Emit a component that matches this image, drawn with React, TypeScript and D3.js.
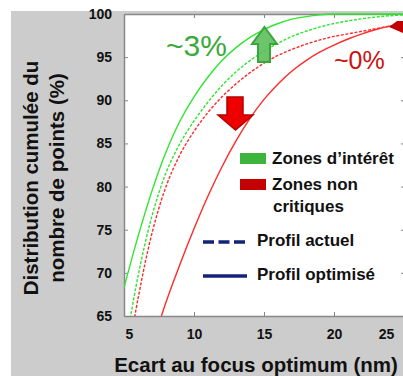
import * as React from 'react';
import {useEffect, useRef} from 'react';
import * as d3 from 'd3';

// ecart au focus (nm)
const focus = [5, 6, 7, 8, 9, 10, 11, 12, 13, 14, 15, 16, 17, 18, 19, 20, 21, 22, 23, 24, 25];
// distribution cumulee (%)
const interetOptimise = [68.3, 74.2, 79.5, 84.0, 87.6, 90.4, 92.7, 94.6, 96.1, 97.3, 98.2, 98.9, 99.4, 99.7, 99.9, 100, 100, 100, 100, 100, 100];
const interetActuel = [60.5, 69.6, 76.6, 81.6, 85.0, 87.6, 89.8, 91.7, 93.3, 94.6, 95.7, 96.6, 97.4, 98.0, 98.5, 98.9, 99.2, 99.45, 99.65, 99.8, 99.9];
const nonCritiquesActuel = [57.5, 67.0, 74.6, 80.0, 83.7, 86.4, 88.6, 90.4, 91.9, 93.2, 94.3, 95.2, 95.9, 96.5, 97.0, 97.4, 97.7, 98.0, 98.3, 98.6, 98.8];
const nonCritiquesOptimise = [49, 55.7, 61.5, 66.6, 71.0, 75.1, 78.9, 82.3, 85.3, 87.9, 90.1, 91.9, 93.4, 94.6, 95.6, 96.4, 97.1, 97.7, 98.2, 98.6, 98.9];

const xTicks = [5, 10, 15, 20, 25];
const yTicks = [65, 70, 75, 80, 85, 90, 95, 100];

const FONT = "'Liberation Sans', Arial, sans-serif";
const W = 403;
const H = 376;

function Chart() {
    const ref = useRef<SVGSVGElement>(null);

    useEffect(() => {
        const svg = d3.select(ref.current);
        svg.selectAll('*').remove();

        const plot = {left: 124, right: 404, top: 14, bottom: 316};

        const x = d3.scaleLinear().domain([5, 25]).range([plot.left, plot.right]);
        const y = d3.scaleLinear().domain([65, 100]).range([plot.bottom, plot.top]);

        // fond gris + zone blanche
        svg.append('rect').attr('x', 11).attr('y', 11).attr('width', W - 11).attr('height', H - 11).attr('fill', '#cccccc');
        svg.append('rect').attr('x', plot.left).attr('y', plot.top)
            .attr('width', plot.right - plot.left).attr('height', plot.bottom - plot.top).attr('fill', '#ffffff');

        svg.append('clipPath').attr('id', 'clip')
            .append('rect').attr('x', plot.left).attr('y', plot.top - 1)
            .attr('width', plot.right - plot.left).attr('height', plot.bottom - plot.top + 1);

        // axes
        const left = svg.append('g').attr('transform', `translate(${plot.left},0)`)
            .call(d3.axisLeft(y).tickValues(yTicks).tickSizeInner(-4).tickSizeOuter(0).tickPadding(12));
        const bottom = svg.append('g').attr('transform', `translate(0,${plot.bottom})`)
            .call(d3.axisBottom(x).tickValues(xTicks).tickSizeInner(-4).tickSizeOuter(0).tickPadding(13));
        svg.append('g').attr('transform', `translate(0,${plot.top})`)
            .call(d3.axisTop(x).tickValues(xTicks).tickSizeInner(-4).tickSizeOuter(0).tickFormat(() => ''));
        svg.append('g').attr('transform', `translate(${plot.right},0)`)
            .call(d3.axisRight(y).tickValues(yTicks).tickSizeInner(-3).tickSizeOuter(0).tickFormat(() => ''));

        svg.selectAll('.domain').attr('stroke', '#888888').attr('stroke-width', 1.5);
        svg.selectAll('.tick line').attr('stroke', '#888888');
        [left, bottom].forEach(g => g.selectAll('text')
            .attr('font-family', FONT).attr('font-size', 14).attr('font-weight', 'bold').attr('fill', '#111'));
        bottom.selectAll('text').filter((d: any) => d === 5).attr('dx', 5);
        bottom.selectAll('text').filter((d: any) => d === 25).attr('dx', -18);

        // courbes
        const line = d3.line<number>()
            .x((d, i) => x(focus[i]))
            .y(d => y(d))
            .curve(d3.curveCatmullRom);

        const series = [
            {values: nonCritiquesOptimise, color: '#ff2a2a', dash: null},
            {values: nonCritiquesActuel, color: '#ff2a2a', dash: '3,1.6'},
            {values: interetActuel, color: '#2ee62e', dash: '3,1.6'},
            {values: interetOptimise, color: '#2ee62e', dash: null},
        ];
        const curves = svg.append('g').attr('clip-path', 'url(#clip)');
        series.forEach(s => {
            curves.append('path')
                .attr('d', line(s.values))
                .attr('fill', 'none')
                .attr('stroke', s.color)
                .attr('stroke-width', 1.4)
                .attr('stroke-dasharray', s.dash);
        });

        // fleches
        svg.append('polygon')
            .attr('points', '264.5,27 277,44 270,44 270,62 258,62 258,44 252,44')
            .attr('fill', '#5cbf5c').attr('fill-opacity', 0.9)
            .attr('stroke', '#3aa53a').attr('stroke-width', 2);
        svg.append('polygon')
            .attr('points', '227,97 243,97 243,115 253,115 235.5,130 218,115 227,115')
            .attr('fill', '#ee0000')
            .attr('stroke', '#b30000').attr('stroke-width', 1.5);
        svg.append('polygon')
            .attr('points', '389,27 397,21 403,21 403,33')
            .attr('fill', '#c00000');

        svg.append('text').attr('x', 166).attr('y', 56).text('~3%')
            .attr('font-family', FONT).attr('font-size', 30).attr('fill', '#3aaa3a');
        svg.append('text').attr('x', 334).attr('y', 69).text('~0%')
            .attr('font-family', FONT).attr('font-size', 25).attr('fill', '#cc1111');

        // legende
        const leg = svg.append('g').attr('font-family', FONT).attr('font-size', 17).attr('font-weight', 'bold').attr('fill', '#111');
        leg.append('rect').attr('x', 240).attr('y', 153).attr('width', 26).attr('height', 11).attr('fill', '#3db53d');
        leg.append('text').attr('x', 272).attr('y', 164).text('Zones d’intérêt');
        leg.append('rect').attr('x', 240).attr('y', 179).attr('width', 26).attr('height', 11).attr('fill', '#c40000');
        leg.append('text').attr('x', 272).attr('y', 190).text('Zones non');
        leg.append('text').attr('x', 273).attr('y', 212).text('critiques');
        leg.append('line').attr('x1', 203).attr('x2', 247).attr('y1', 242).attr('y2', 242)
            .attr('stroke', '#14237a').attr('stroke-width', 3.5).attr('stroke-dasharray', '11,4.5');
        leg.append('text').attr('x', 257).attr('y', 246).text('Profil actuel');
        leg.append('line').attr('x1', 203).attr('x2', 247).attr('y1', 276).attr('y2', 276)
            .attr('stroke', '#14237a').attr('stroke-width', 3.5);
        leg.append('text').attr('x', 257).attr('y', 280).text('Profil optimisé');

        // titres des axes
        const yLab = svg.append('text').attr('transform', 'translate(38,178) rotate(-90)')
            .attr('text-anchor', 'middle').attr('font-family', FONT).attr('font-size', 20.5)
            .attr('font-weight', 'bold').attr('fill', '#111');
        yLab.append('tspan').attr('x', 0).attr('y', 0).text('Distribution cumulée du');
        yLab.append('tspan').attr('x', 0).attr('y', 26).text('nombre de points (%)');

        svg.append('text').attr('x', 256).attr('y', 372).attr('text-anchor', 'middle')
            .attr('font-family', FONT).attr('font-size', 20.5).attr('font-weight', 'bold').attr('fill', '#111')
            .text('Ecart au focus optimum (nm)');
    }, []);

    return <svg ref={ref} width={W} height={H} style={{position: 'absolute', left: 0, top: 0}} />;
}

export default function App() {
    return <Chart />;
}
